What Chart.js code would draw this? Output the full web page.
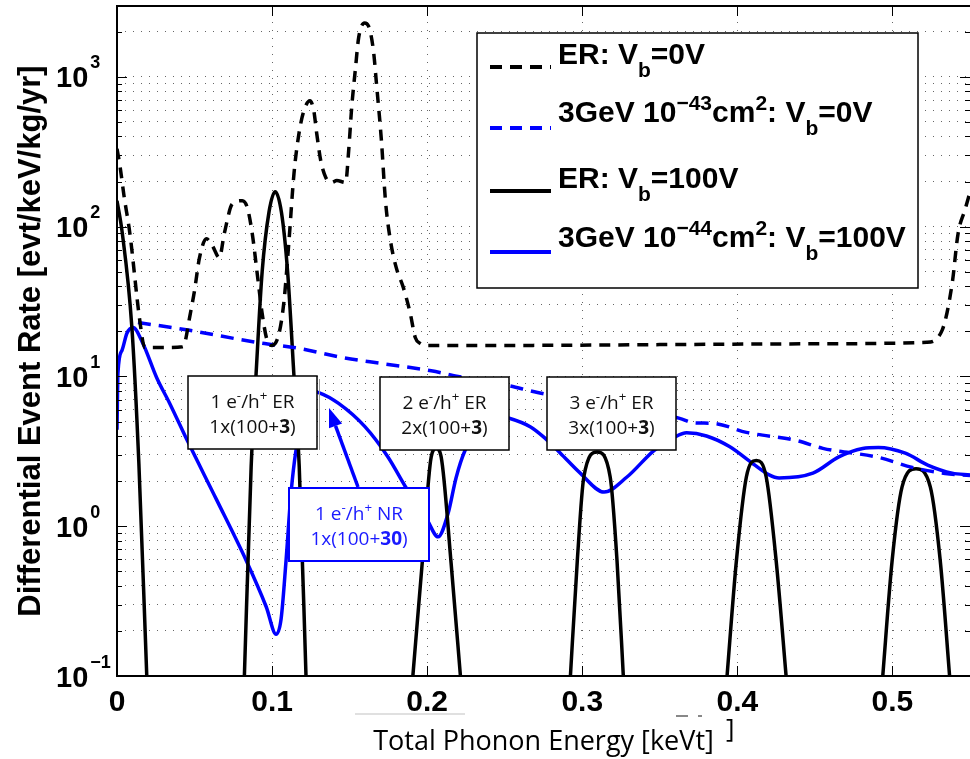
<!DOCTYPE html>
<html>
<head>
<meta charset="utf-8">
<script src="https://cdn.jsdelivr.net/npm/chart.js@4.4.1/dist/chart.umd.min.js"></script>
<style>
  html, body { margin: 0; padding: 0; background: #fff; }
</style>
</head>
<body>
<canvas id="chart" width="970" height="759"></canvas>
<script>
// axis ticks
const xTickValues = [0, 0.1, 0.2, 0.3, 0.4, 0.5];
const xTickLabels = ['0', '0.1', '0.2', '0.3', '0.4', '0.5'];
const yDecades = [0.1, 1, 10, 100, 1000];
const yTickExponents = ['\u22121', '0', '1', '2', '3'];

// ER, Vb = 0V  (black dashed)  [keVt, rate]
const erZero = [
    [0, 331], [0.0019, 255], [0.0045, 161], [0.0083, 90], [0.0147, 23.6], [0.0179, 15.6],
    [0.031, 15.6], [0.0423, 15.8], [0.0436, 16.5], [0.0468, 24.7], [0.05, 37.5], [0.0532, 62],
    [0.0577, 83], [0.0615, 74.5], [0.066, 62], [0.0692, 90], [0.0744, 142], [0.0808, 149],
    [0.084, 134], [0.0872, 90], [0.0904, 48.7], [0.0936, 26.3], [0.0968, 17.4], [0.1, 16.1],
    [0.1045, 19.4], [0.1077, 32], [0.1109, 80.7], [0.1141, 225], [0.1173, 417], [0.1205, 593],
    [0.1244, 692], [0.1269, 593], [0.1288, 417], [0.1314, 275], [0.1346, 213], [0.1385, 197],
    [0.1417, 203], [0.1474, 197], [0.1494, 324], [0.1513, 620], [0.1538, 1150], [0.1558, 1820],
    [0.1596, 2290], [0.1622, 2180], [0.1654, 1480], [0.1673, 900], [0.1705, 375], [0.1731, 149],
    [0.1763, 80.7], [0.1801, 53], [0.1846, 39.3], [0.1891, 26.3], [0.1923, 18.2], [0.1955, 16.6],
    [0.2006, 16.1], [0.25, 16.1], [0.35, 16.3], [0.45, 16.5], [0.522, 16.9], [0.532, 20.3],
    [0.5385, 41.7], [0.5423, 89.7], [0.5468, 130], [0.55, 170]
];

// 3GeV 1e-43 cm2, Vb = 0V  (blue dashed)
const wimpZero = [
    [0.0135, 22.9], [0.0468, 20.3], [0.0897, 16.9], [0.1173, 15.4], [0.1449, 13.4], [0.1705, 12.2],
    [0.2026, 10.9], [0.2199, 10.0], [0.2519, 8.7], [0.2712, 7.8], [0.3628, 5.25], [0.3718, 4.9],
    [0.3846, 4.86], [0.4058, 4.23], [0.4378, 3.74], [0.4551, 3.31], [0.491, 2.88], [0.5128, 2.47],
    [0.534, 2.25], [0.55, 2.18]
];

// ER, Vb = 100V  (black solid), null = below the axis
const erHundred = [
    [0, 149], [0.0032, 94], [0.0096, 21.2], [0.0141, 2.63], [0.0192, 0.1], [0.0198, 0.07],
    [0.05, null],
    [0.082, 0.09], [0.0865, 2.5], [0.0897, 10.5], [0.0936, 50], [0.098, 125], [0.102, 171],
    [0.106, 125], [0.110, 50], [0.114, 10.5], [0.1175, 2.5], [0.122, 0.09],
    [0.15, null],
    [0.1904, 0.09], [0.1968, 0.57], [0.2026, 2.9], [0.2058, 3.3], [0.209, 2.9], [0.2154, 0.57],
    [0.2218, 0.09],
    [0.26, null],
    [0.2921, 0.09], [0.2968, 0.59], [0.301, 2.13], [0.3096, 3.13], [0.318, 2.13], [0.3224, 0.59],
    [0.3267, 0.09],
    [0.36, null],
    [0.393, 0.09], [0.3994, 0.59], [0.4058, 2.13], [0.4122, 2.75], [0.4186, 2.13], [0.425, 0.59],
    [0.4318, 0.09],
    [0.46, null],
    [0.4934, 0.09], [0.4998, 0.59], [0.5062, 1.83], [0.5152, 2.42], [0.5244, 1.83], [0.5308, 0.59],
    [0.5372, 0.09]
];

// 3GeV 1e-44 cm2, Vb = 100V  (blue solid)
const wimpHundred = [
    [0, 4.4], [0.0006, 10.5], [0.0032, 14.9], [0.0064, 19.4], [0.0103, 21.2], [0.0167, 16.6],
    [0.0256, 9.8], [0.034, 6.6], [0.0455, 3.7], [0.0641, 1.51], [0.0833, 0.59], [0.0962, 0.29],
    [0.1026, 0.19], [0.1058, 0.24], [0.109, 0.59], [0.1122, 1.66], [0.1154, 3.2], [0.124, 8.0],
    [0.1301, 7.8], [0.1429, 6.6], [0.16, 4.6], [0.1747, 2.9], [0.1865, 1.8], [0.2, 1.1],
    [0.207, 0.85], [0.2135, 1.22], [0.2186, 2.1], [0.2244, 3.2], [0.24, 5.6], [0.2519, 5.3],
    [0.2667, 4.6], [0.2756, 3.9], [0.2859, 3.07], [0.2987, 2.26], [0.3141, 1.69], [0.3288, 2.13],
    [0.3462, 3.2], [0.359, 3.9], [0.3673, 4.2], [0.3801, 4.0], [0.3949, 3.4], [0.4103, 2.6],
    [0.4205, 2.2], [0.4269, 2.1], [0.4487, 2.26], [0.4654, 2.9], [0.4808, 3.3], [0.491, 3.35],
    [0.5083, 3.07], [0.5231, 2.55], [0.5385, 2.26], [0.55, 2.2]
];

const toPoints = arr => arr.map(p => ({ x: p[0], y: p[1] }));

const BLUE = '#0000ff';
const SANS = "'Liberation Sans', Arial, sans-serif";
const NOTE = "'Open Sans', 'Noto Sans', sans-serif";

// text with sub/superscripts: mode 0 normal, 1 sup, -1 sub, 2 bold
function richText(ctx, parts, x, y, size, family, weight, color, draw) {
    let cx = x;
    for (const [t, m] of parts) {
        let s = size, dy = 0, w = weight;
        if (m === 1) { s = size * 0.7; dy = -size * 0.4; }
        else if (m === -1) { s = size * 0.7; dy = size * 0.42; }
        else if (m === 2) { w = 'bold'; }
        ctx.font = w + ' ' + s + 'px ' + family;
        if (draw) {
            ctx.fillStyle = color;
            ctx.fillText(t, cx, y + dy);
        }
        cx += ctx.measureText(t).width;
    }
    return cx - x;
}

function centeredText(ctx, parts, cx, y, size, family, color) {
    const w = richText(ctx, parts, 0, 0, size, family, 'normal', color, false);
    richText(ctx, parts, cx - w / 2, y, size, family, 'normal', color, true);
}

function noteBox(ctx, x0, y0, x1, y1, stroke, lw, lines, color) {
    ctx.fillStyle = '#fff';
    ctx.fillRect(x0, y0, x1 - x0, y1 - y0);
    ctx.strokeStyle = stroke;
    ctx.lineWidth = lw;
    ctx.strokeRect(x0, y0, x1 - x0, y1 - y0);
    const cx = (x0 + x1) / 2;
    centeredText(ctx, lines[0], cx, y0 + 32, 19, NOTE, color);
    centeredText(ctx, lines[1], cx, y0 + 57, 19, NOTE, color);
}

const overlay = {
    id: 'overlay',
    afterDatasetsDraw(chart) {
        const ctx = chart.ctx;
        const a = chart.chartArea;
        const xs = chart.scales.x, ys = chart.scales.y;
        ctx.save();
        ctx.textBaseline = 'alphabetic';
        ctx.textAlign = 'left';

        // y tick labels 10^n
        yDecades.forEach((d, i) => {
            const py = ys.getPixelForValue(d);
            ctx.fillStyle = '#000';
            ctx.font = 'bold 29px ' + SANS;
            ctx.fillText('10', 56, py + 10.5);
            const w = ctx.measureText('10').width;
            ctx.font = 'bold 18px ' + SANS;
            ctx.fillText(yTickExponents[i], 56 + w + 2, py - 8.5);
        });

        // inside tick marks
        ctx.strokeStyle = '#000';
        ctx.lineWidth = 1;
        ctx.beginPath();
        ys.ticks.forEach(t => {
            const py = Math.round(ys.getPixelForValue(t.value)) + 0.5;
            const len = yDecades.some(d => Math.abs(t.value - d) < d * 1e-6) ? 10 : 5;
            ctx.moveTo(a.left, py); ctx.lineTo(a.left + len, py);
            ctx.moveTo(a.right, py); ctx.lineTo(a.right - len, py);
        });
        xTickValues.forEach(v => {
            const px = Math.round(xs.getPixelForValue(v)) + 0.5;
            ctx.moveTo(px, a.bottom); ctx.lineTo(px, a.bottom - 10);
            ctx.moveTo(px, a.top); ctx.lineTo(px, a.top + 10);
        });
        ctx.stroke();

        // axes frame
        ctx.lineWidth = 2;
        ctx.beginPath();
        ctx.moveTo(a.right + 2, a.top); ctx.lineTo(a.left, a.top);
        ctx.lineTo(a.left, a.bottom); ctx.lineTo(a.right + 2, a.bottom);
        ctx.stroke();

        // annotation boxes
        noteBox(ctx, 188, 376, 317, 449, '#000', 1.5,
            [[['1 e', 0], ['-', 1], ['/h', 0], ['+', 1], [' ER', 0]],
             [['1x(100+', 0], ['3', 2], [')', 0]]], '#111');
        ctx.strokeStyle = '#999';
        ctx.lineWidth = 1;
        ctx.beginPath(); ctx.moveTo(319.5, 379); ctx.lineTo(319.5, 450); ctx.stroke();
        noteBox(ctx, 380, 377, 509, 450, '#000', 1.5,
            [[['2 e', 0], ['-', 1], ['/h', 0], ['+', 1], [' ER', 0]],
             [['2x(100+', 0], ['3', 2], [')', 0]]], '#111');
        noteBox(ctx, 547, 377, 676, 450, '#000', 1.5,
            [[['3 e', 0], ['-', 1], ['/h', 0], ['+', 1], [' ER', 0]],
             [['3x(100+', 0], ['3', 2], [')', 0]]], '#111');
        noteBox(ctx, 289, 488, 429, 561, BLUE, 2,
            [[['1 e', 0], ['-', 1], ['/h', 0], ['+', 1], [' NR', 0]],
             [['1x(100+', 0], ['30', 2], [')', 0]]], '#1a1aff');

        // arrow from NR box to the first ER box
        const sx = 358, sy = 487, tx = 329, ty = 408;
        const L = Math.hypot(tx - sx, ty - sy);
        const ux = (tx - sx) / L, uy = (ty - sy) / L;
        const bx = tx - 19 * ux, by = ty - 19 * uy;
        ctx.strokeStyle = BLUE;
        ctx.fillStyle = BLUE;
        ctx.lineWidth = 3.5;
        ctx.beginPath(); ctx.moveTo(sx, sy); ctx.lineTo(bx, by); ctx.stroke();
        ctx.beginPath();
        ctx.moveTo(tx, ty);
        ctx.lineTo(bx - 7 * uy, by + 7 * ux);
        ctx.lineTo(bx + 7 * uy, by - 7 * ux);
        ctx.closePath(); ctx.fill();

        // legend
        ctx.fillStyle = '#fff';
        ctx.fillRect(477, 33, 441, 255);
        ctx.strokeStyle = '#000';
        ctx.lineWidth = 1.5;
        ctx.strokeRect(477, 33, 441, 255);
        const rows = [
            { y: 64, ly: 67, color: '#000', dash: [12, 8],
              parts: [['ER: V', 0], ['b', -1], ['=0V', 0]] },
            { y: 122, ly: 128, color: BLUE, dash: [12, 8],
              parts: [['3GeV 10', 0], ['\u221243', 1], ['cm', 0], ['2', 1], [': V', 0], ['b', -1], ['=0V', 0]] },
            { y: 188, ly: 191, color: '#000', dash: [],
              parts: [['ER: V', 0], ['b', -1], ['=100V', 0]] },
            { y: 247, ly: 252, color: BLUE, dash: [],
              parts: [['3GeV 10', 0], ['\u221244', 1], ['cm', 0], ['2', 1], [': V', 0], ['b', -1], ['=100V', 0]] }
        ];
        rows.forEach(r => {
            ctx.strokeStyle = r.color;
            ctx.lineWidth = 4;
            ctx.setLineDash(r.dash);
            ctx.beginPath(); ctx.moveTo(490, r.ly); ctx.lineTo(551, r.ly); ctx.stroke();
            ctx.setLineDash([]);
            richText(ctx, r.parts, 558, r.y, 30, SANS, 'bold', '#000', true);
        });

        // stray marks below the axis
        ctx.strokeStyle = '#e0e0e0';
        ctx.lineWidth = 2;
        ctx.beginPath(); ctx.moveTo(355, 714); ctx.lineTo(465, 714); ctx.stroke();
        ctx.strokeStyle = '#888';
        ctx.beginPath(); ctx.moveTo(676, 716); ctx.lineTo(688, 716);
        ctx.moveTo(698, 716); ctx.lineTo(702, 716); ctx.stroke();
        ctx.fillStyle = '#000';
        ctx.font = '26px ' + NOTE;
        ctx.fillText(']', 726, 737);
        ctx.restore();
    }
};

const zeroPadding = s => {
    s.paddingLeft = 0; s.paddingRight = 0; s.paddingTop = 0; s.paddingBottom = 0;
};

const ctx = document.getElementById('chart').getContext('2d');
const chart = new Chart(ctx, {
    type: 'line',
    data: {
        datasets: [
            { label: 'ER: Vb=0V', data: toPoints(erZero), borderColor: '#000',
              borderWidth: 3.5, borderDash: [11, 8] },
            { label: '3GeV 1e-43cm2: Vb=0V', data: toPoints(wimpZero), borderColor: BLUE,
              borderWidth: 3.5, borderDash: [13, 8] },
            { label: 'ER: Vb=100V', data: toPoints(erHundred), borderColor: '#000',
              borderWidth: 3.5 },
            { label: '3GeV 1e-44cm2: Vb=100V', data: toPoints(wimpHundred), borderColor: BLUE,
              borderWidth: 3.5 }
        ]
    },
    options: {
        responsive: false,
        animation: false,
        spanGaps: false,
        layout: { autoPadding: false, padding: { top: 6, right: -5, bottom: 0, left: 0 } },
        elements: {
            point: { radius: 0, hitRadius: 0, hoverRadius: 0 },
            line: { cubicInterpolationMode: 'monotone', fill: false }
        },
        plugins: { legend: { display: false }, tooltip: { enabled: false } },
        scales: {
            x: {
                type: 'linear',
                min: 0,
                max: 0.55,
                afterFit: s => { s.height = 83; zeroPadding(s); },
                afterBuildTicks: s => { s.ticks = xTickValues.map(v => ({ value: v })); },
                grid: { color: 'rgba(0,0,0,0.6)', lineWidth: 1, drawTicks: false },
                border: { display: false, dash: [1, 7] },
                ticks: {
                    maxRotation: 0,
                    autoSkip: false,
                    padding: 9,
                    color: '#000',
                    font: { family: SANS, size: 30, weight: 'bold' },
                    callback: v => xTickLabels[xTickValues.findIndex(t => Math.abs(t - v) < 1e-9)]
                },
                title: {
                    display: true,
                    text: 'Total Phonon Energy [keVt]',
                    color: '#000',
                    padding: { top: 0, bottom: 0 },
                    font: { family: NOTE, size: 27, weight: 'normal', lineHeight: 1.2 }
                }
            },
            y: {
                type: 'logarithmic',
                min: 0.1,
                max: 2970,
                afterFit: s => { s.width = 117; zeroPadding(s); },
                afterBuildTicks: s => {
                    const t = [];
                    yDecades.forEach(d => {
                        for (let k = 1; k <= 9; k++) {
                            if (d * k <= 2970) t.push({ value: d * k });
                        }
                    });
                    s.ticks = t;
                },
                grid: { color: 'rgba(0,0,0,0.6)', lineWidth: 1, drawTicks: false },
                border: { display: false, dash: [1, 7] },
                ticks: { display: false, autoSkip: false },
                title: {
                    display: true,
                    text: 'Differential Event Rate [evt/keV/kg/yr]',
                    color: '#000',
                    padding: { top: 13, bottom: 13 },
                    font: { family: SANS, size: 31, weight: 'bold', lineHeight: 1.2 }
                }
            }
        }
    },
    plugins: [overlay]
});
</script>
</body>
</html>
